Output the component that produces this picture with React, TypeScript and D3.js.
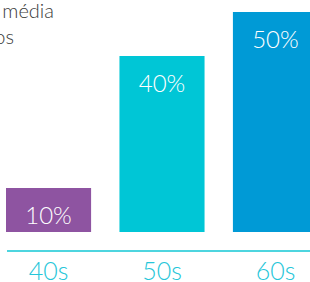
import * as d3 from "d3";
import { useRef, useEffect } from "react";

const categories = ["40s", "50s", "60s"];
const values = [10, 40, 50];
const colors = ["#8e54a1", "#00c6d6", "#009ad6"];
const titleLines = ["média", "os"];

export default function App() {
  const svgRef = useRef(null);

  useEffect(() => {
    const width = 310;
    const height = 282;

    const svg = d3
      .select(svgRef.current)
      .attr("width", width)
      .attr("height", height);
    svg.selectAll("*").remove();

    const x = d3
      .scaleBand<string>()
      .domain(categories)
      .range([6, 318])
      .paddingInner(0.25)
      .paddingOuter(0);

    const y = d3.scaleLinear().domain([0, 50]).range([232, 12]);

    const data = categories.map((c, i) => ({ cat: c, value: values[i], color: colors[i] }));

    // title, cut off at the left edge like the source
    svg
      .append("g")
      .selectAll("text")
      .data(titleLines)
      .enter()
      .append("text")
      .attr("x", (_, i) => (i === 0 ? 54 : 14))
      .attr("y", (_, i) => 18 + i * 26)
      .attr("text-anchor", "end")
      .attr("fill", "#3a3a3a")
      .style("font-family", "Lato")
      .style("font-weight", 300)
      .style("font-size", "20px")
      .text((d) => d);

    svg
      .selectAll("rect")
      .data(data)
      .enter()
      .append("rect")
      .attr("x", (d) => x(d.cat)!)
      .attr("y", (d) => y(d.value))
      .attr("width", x.bandwidth())
      .attr("height", (d) => y(0) - y(d.value))
      .attr("fill", (d) => d.color);

    svg
      .append("g")
      .selectAll("text")
      .data(data)
      .enter()
      .append("text")
      .attr("x", (d) => x(d.cat)! + x.bandwidth() / 2)
      .attr("y", (d) => y(d.value) + 36)
      .attr("text-anchor", "middle")
      .attr("fill", "#ffffff")
      .style("font-family", "Lato")
      .style("font-weight", 300)
      .style("font-size", "24px")
      .text((d) => d.value + "%");

    // baseline
    svg
      .append("line")
      .attr("x1", 7)
      .attr("x2", width)
      .attr("y1", 251)
      .attr("y2", 251)
      .attr("stroke", "#4dd5df")
      .attr("stroke-width", 2.2);

    svg
      .append("g")
      .selectAll("text")
      .data(data)
      .enter()
      .append("text")
      .attr("x", (d) => x(d.cat)! + x.bandwidth() / 2)
      .attr("y", 280)
      .attr("text-anchor", "middle")
      .attr("fill", "#26c6d9")
      .style("font-family", "Lato")
      .style("font-weight", 300)
      .style("font-size", "25px")
      .text((d) => d.cat);
  }, []);

  return (
    <svg
      ref={svgRef}
      style={{ position: "absolute", left: 0, top: 0, display: "block" }}
    />
  );
}
